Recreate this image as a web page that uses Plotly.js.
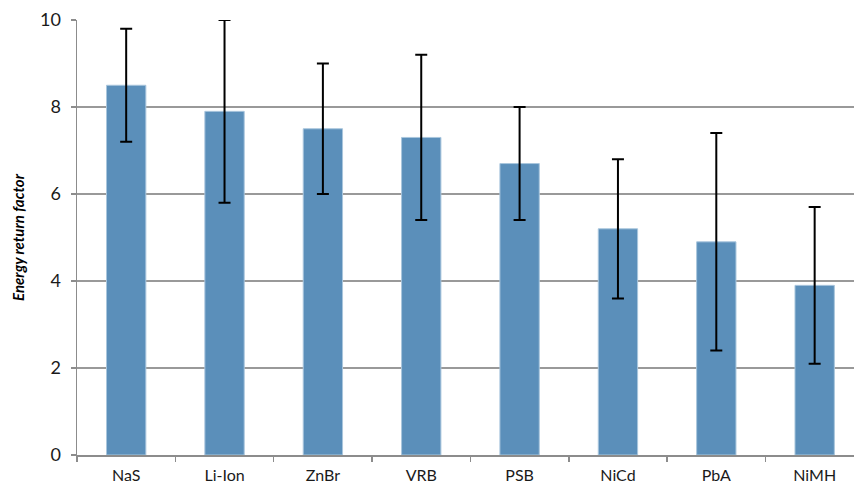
<!DOCTYPE html>
<html>
<head>
<meta charset="utf-8">
<script src="https://cdn.plot.ly/plotly-3.0.1.min.js"></script>
<style>html,body{margin:0;padding:0;background:#fff;}#chart{width:854px;height:488px;}</style>
</head>
<body>
<div id="chart"></div>
<script>
const categories = ["NaS", "Li-Ion", "ZnBr", "VRB", "PSB", "NiCd", "PbA", "NiMH"];
const values = [8.5, 7.9, 7.5, 7.3, 6.7, 5.2, 4.9, 3.9];
const errPlus = [1.3, 2.1, 1.5, 1.9, 1.3, 1.6, 2.5, 1.8];
const errMinus = [1.3, 2.1, 1.5, 1.9, 1.3, 1.6, 2.5, 1.8];
const yTicks = [0, 2, 4, 6, 8, 10];

const trace = {
  type: "bar",
  x: categories,
  y: values,
  marker: {color: "#5b8fba", line: {color: "#a9c6dd", width: 1}},
  error_y: {
    type: "data", symmetric: false,
    array: errPlus, arrayminus: errMinus,
    color: "#000", thickness: 2, width: 6
  },
  hoverinfo: "none"
};

const layout = {
  width: 854, height: 488,
  margin: {l: 77, r: 0, t: 20, b: 33},
  paper_bgcolor: "#fff", plot_bgcolor: "#fff",
  font: {family: "Lato, 'Open Sans', sans-serif", size: 16, color: "#1a1a1a"},
  bargap: 0.6,
  showlegend: false,
  xaxis: {
    range: [-0.5, 7.4],
    ticks: "outside", tickson: "boundaries", ticklen: 5, tickcolor: "#8c8c8c", tickwidth: 1.5,
    showline: true, linecolor: "#8c8c8c", linewidth: 1.5,
    showgrid: false, zeroline: false,
    ticklabelstandoff: 5,
    tickfont: {size: 16}
  },
  yaxis: {
    range: [0, 10], tickvals: yTicks, ticktext: yTicks.map(String),
    ticks: "outside", ticklen: 5, tickcolor: "#8c8c8c", tickwidth: 1.5,
    showline: true, linecolor: "#8c8c8c", linewidth: 1.5,
    showgrid: true, gridcolor: "#999999", gridwidth: 1.5,
    zeroline: false,
    ticklabelstandoff: 6,
    tickfont: {size: 18},
    title: {text: "<b><i>Energy return factor</i></b>", font: {size: 15, color: "#000"}, standoff: 12}
  }
};

Plotly.newPlot("chart", [trace], layout, {staticPlot: true, displayModeBar: false});
</script>
</body>
</html>
